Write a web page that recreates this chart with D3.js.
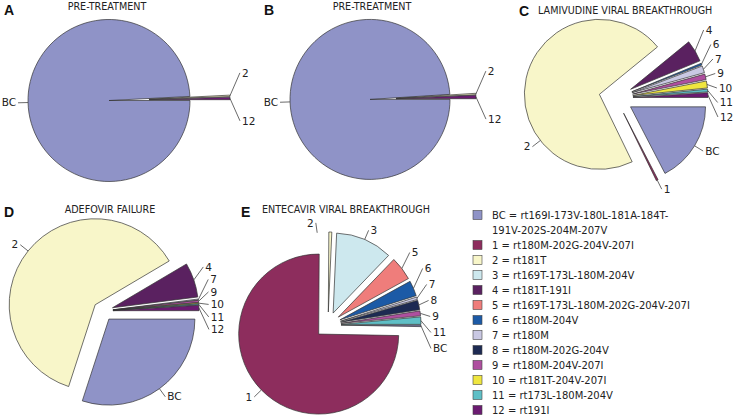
<!DOCTYPE html>
<html lang="en">
<head>
<meta charset="UTF-8">
<title>HBV variants by treatment stage</title>
<script src="https://d3js.org/d3.v7.min.js"></script>
<style>
    body { margin: 0; background: #fff; }
    svg { display: block; font-family: "DejaVu Sans", Verdana, sans-serif; }
    .title { font-size: 9.6px; fill: #222; }
    .letter { font-family: "Liberation Sans", Arial, sans-serif; font-weight: bold; font-size: 14px; fill: #111; }
    .slice { stroke: #333; stroke-width: 0.7px; }
    .leader { stroke: #444; stroke-width: 0.8px; fill: none; }
    .plabel { font-size: 10.5px; fill: #222; }
    .legend text { font-size: 10px; fill: #222; }
    .legend rect { stroke: #444; stroke-width: 0.6px; }
</style>
</head>
<body>
<svg id="chart" width="740" height="417"></svg>
<script>
// variant keys and their mutation patterns (legend)
const keys = ["BC", "1", "2", "3", "4", "5", "6", "7", "8", "9", "10", "11", "12"];
const mutations = [
    "rt169I-173V-180L-181A-184T-191V-202S-204M-207V",
    "rt180M-202G-204V-207I",
    "rt181T",
    "rt169T-173L-180M-204V",
    "rt181T-191I",
    "rt169T-173L-180M-202G-204V-207I",
    "rt180M-204V",
    "rt180M",
    "rt180M-202G-204V",
    "rt180M-204V-207I",
    "rt181T-204V-207I",
    "rt173L-180M-204V",
    "rt191I"
];

// share of clones (%) per variant, same order as keys
const pretreatA  = [99.2, 0, 0.3, 0, 0, 0, 0, 0, 0, 0, 0, 0, 0.5];
const pretreatB  = [99.0, 0, 0.3, 0, 0, 0, 0, 0, 0, 0, 0, 0, 0.7];
const lamivudine = [17.4, 0.4, 71.3, 0, 4.7, 0, 0.4, 1.5, 0, 1.2, 1.5, 0.6, 1.0];
const adefovir   = [30.0, 0, 61.5, 0, 6.5, 0, 0, 0.2, 0, 0.4, 0.2, 0.2, 1.0];
const entecavir  = [0.3, 74.8, 0.6, 11.5, 0, 4.8, 3.1, 0.5, 1.9, 1.0, 0, 1.5, 0];

const panelTitles = ["PRE-TREATMENT", "PRE-TREATMENT", "LAMIVUDINE VIRAL BREAKTHROUGH",
                     "ADEFOVIR FAILURE", "ENTECAVIR VIRAL BREAKTHROUGH"];
const panelLetters = ["A", "B", "C", "D", "E"];

const palette = ["#8f93c7", "#8d2d5d", "#f8f6c9", "#cde8ee", "#5a2160", "#ef7d7b", "#1c5aa6",
                 "#c9c8e3", "#1d2a52", "#ae4f9f", "#efe63f", "#5fbfc6", "#6b1b71"];
const color = d3.scaleOrdinal().domain(keys).range(palette);

const svg = d3.select("#chart");

// layout of each pie (labelAngle: degrees, for labels not placed at the slice middle)
const panels = [
    { values: pretreatA,  cx: 129, cy: 100, r: 81, explode: 20, gap: 48, letter: [4, 15],   title: [107, 10], titleAnchor: "middle" },
    { values: pretreatB,  cx: 383, cy: 99,  r: 80, explode: 13, gap: 48, letter: [264, 15], title: [372, 10], titleAnchor: "middle" },
    { values: lamivudine, cx: 616, cy: 98,  r: 75, explode: 17, gap: 14.5, letter: [519, 16], title: [538, 14], titleAnchor: "start",
      labelAngle: { "2": 232 } },
    { values: adefovir,   cx: 103, cy: 311, r: 86, explode: 10, gap: 12.5, letter: [4, 217], title: [110, 213], titleAnchor: "middle" },
    { values: entecavir,  cx: 328, cy: 325, r: 80, explode: 13, gap: 16, letter: [241, 217], title: [262, 213], titleAnchor: "start",
      labelAngle: { "2": 352 } }
];

const pie = d3.pie()
    .sort(null)
    .value(d => d.value)
    .startAngle(Math.PI / 2)
    .endAngle(Math.PI / 2 + 2 * Math.PI);

const dir = a => [Math.sin(a), -Math.cos(a)];

panels.forEach((p, i) => {
    const g = svg.append("g");

    g.append("text").attr("class", "letter")
        .attr("x", p.letter[0]).attr("y", p.letter[1])
        .text(panelLetters[i]);
    g.append("text").attr("class", "title")
        .attr("x", p.title[0]).attr("y", p.title[1])
        .attr("text-anchor", p.titleAnchor)
        .text(panelTitles[i]);

    const data = keys.map((k, j) => ({ key: k, value: p.values[j] }));
    const arcs = pie(data).filter(d => d.value > 0);
    const arc = d3.arc().innerRadius(0).outerRadius(p.r);

    // exploded slices
    g.selectAll("path")
        .data(arcs)
        .enter().append("path")
        .attr("class", "slice")
        .attr("fill", d => color(d.data.key))
        .attr("transform", d => {
            const m = dir((d.startAngle + d.endAngle) / 2);
            return `translate(${p.cx + p.explode * m[0]},${p.cy + p.explode * m[1]})`;
        })
        .attr("d", arc);

    // labels: start at the outer arc, push out, then spread vertically per side
    const labels = arcs.map(d => {
        const mid = (d.startAngle + d.endAngle) / 2;
        const m = dir(mid);
        const override = p.labelAngle && p.labelAngle[d.data.key];
        const a = override !== undefined ? override * Math.PI / 180 : mid;
        const n = dir(a);
        const ox = p.cx + p.explode * m[0], oy = p.cy + p.explode * m[1];
        const ext = 10;
        return {
            key: d.data.key,
            px: ox + p.r * n[0], py: oy + p.r * n[1],
            lx: ox + (p.r + ext) * n[0], ly: oy + (p.r + ext) * n[1],
            right: n[0] >= 0
        };
    });

    [true, false].forEach(side => {
        const grp = labels.filter(l => l.right === side).sort((a, b) => a.ly - b.ly);
        for (let it = 0; it < 300; it++) {
            for (let j = 1; j < grp.length; j++) {
                const over = p.gap - (grp[j].ly - grp[j - 1].ly);
                if (over > 0) {
                    grp[j - 1].ly -= over / 2;
                    grp[j].ly += over / 2;
                }
            }
        }
    });

    g.selectAll("line.leader")
        .data(labels)
        .enter().append("line")
        .attr("class", "leader")
        .attr("x1", d => d.px).attr("y1", d => d.py)
        .attr("x2", d => d.lx).attr("y2", d => d.ly);

    g.selectAll("text.plabel")
        .data(labels)
        .enter().append("text")
        .attr("class", "plabel")
        .attr("x", d => d.lx + (d.right ? 2 : -2))
        .attr("y", d => d.ly)
        .attr("dy", "0.35em")
        .attr("text-anchor", d => d.right ? "start" : "end")
        .text(d => d.key);
});

// legend
const legend = svg.append("g").attr("class", "legend");
const legendX = 473, textX = 492, maxW = 200, rowStep = 15;
let y = 215;
keys.forEach((k, i) => {
    legend.append("rect")
        .attr("x", legendX).attr("y", y - 4.5)
        .attr("width", 9).attr("height", 9)
        .attr("fill", color(k));

    const t = legend.append("text").attr("x", textX).attr("y", y).attr("dy", "0.35em");
    const parts = (k + " = " + mutations[i]).split(/(?<=-)/);
    let line = "", tspan = t.append("tspan").attr("x", textX);
    let lines = 1;
    parts.forEach(part => {
        tspan.text(line + part);
        if (tspan.node().getComputedTextLength() > maxW && line) {
            tspan.text(line);
            line = part;
            tspan = t.append("tspan").attr("x", textX).attr("dy", rowStep).text(line);
            lines++;
        } else {
            line += part;
        }
    });
    y += lines * rowStep;
});
</script>
</body>
</html>
